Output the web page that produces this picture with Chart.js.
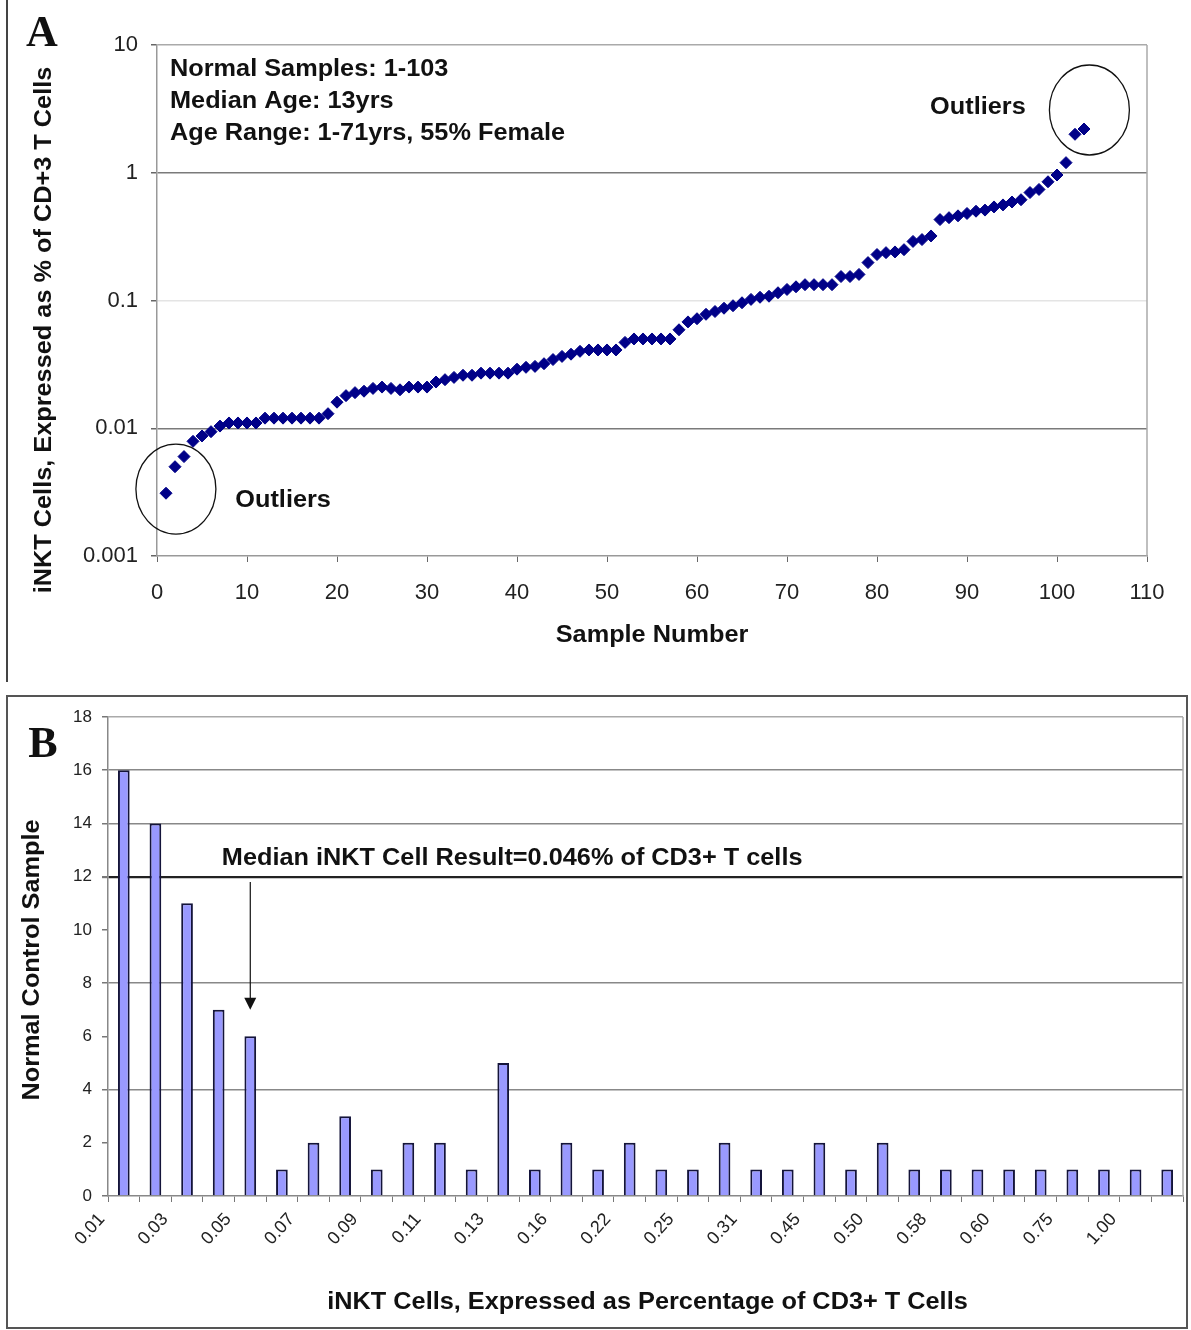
<!DOCTYPE html>
<html>
<head>
<meta charset="utf-8">
<script src="https://cdn.jsdelivr.net/npm/chart.js@4.4.1/dist/chart.umd.min.js"></script>
<style>
  body { margin: 0; background: #fff; width: 1191px; height: 1330px; position: relative; overflow: hidden; }
  canvas { position: absolute; left: 0; }
  #chartA { top: 0; }
  #chartB { top: 682px; }
  .frameA { position: absolute; left: 6px; top: 0; width: 2px; height: 682px; background: #444; }
  .frameB { position: absolute; left: 6px; top: 695px; width: 1182px; height: 634px; border: 2px solid #555; box-sizing: border-box; }
</style>
</head>
<body>
<div class="frameA"></div>
<div class="frameB"></div>
<canvas id="chartA" width="1191" height="682"></canvas>
<canvas id="chartB" width="1191" height="648"></canvas>
<script>
// ---- Panel A: iNKT % of CD3+ T cells per sample (log scale) ----
const inktPercent = [
  0.0031, 0.0050, 0.0060, 0.0079, 0.0087, 0.0094, 0.0104, 0.011, 0.011, 0.011,
  0.011, 0.012, 0.012, 0.012, 0.012, 0.012, 0.012, 0.012, 0.013, 0.016,
  0.018, 0.019, 0.0195, 0.0205, 0.021, 0.0205, 0.020, 0.021, 0.021, 0.021,
  0.023, 0.024, 0.025, 0.026, 0.026, 0.027, 0.027, 0.027, 0.027, 0.029,
  0.030, 0.0305, 0.032, 0.0345, 0.0365, 0.038, 0.040, 0.041, 0.041, 0.041,
  0.041, 0.047, 0.050, 0.050, 0.050, 0.050, 0.050, 0.059, 0.068, 0.072,
  0.078, 0.082, 0.087, 0.091, 0.096, 0.102, 0.106, 0.108, 0.115, 0.122,
  0.128, 0.133, 0.133, 0.133, 0.133, 0.154, 0.154, 0.160, 0.198, 0.229,
  0.237, 0.240, 0.250, 0.290, 0.300, 0.320, 0.430, 0.445, 0.460, 0.480,
  0.500, 0.510, 0.540, 0.560, 0.590, 0.615, 0.700, 0.740, 0.850, 0.960,
  1.2, 2.0, 2.2
];
const sampleNumbers = inktPercent.map((_, i) => i + 1);
const yTicksA      = [0.001, 0.01, 0.1, 1, 10];
const yTickLabelsA = ['0.001', '0.01', '0.1', '1', '10'];
const infoLines = ['Normal Samples: 1-103', 'Median Age: 13yrs', 'Age Range: 1-71yrs, 55% Female'];
// outlier circles: centre in data units, label anchor in data units
const outlierNotes = [
  { cx: 103.6, cy: 3.1,     lx: 85.9, ly: 3.22 },
  { cx: 2.1,   cy: 0.00334, lx: 8.7,  ly: 0.00272 },
];

// ---- Panel B: histogram of iNKT results ----
const binTickLabels = ['0.01','0.03','0.05','0.07','0.09','0.11','0.13','0.16','0.22',
                       '0.25','0.31','0.45','0.50','0.58','0.60','0.75','1.00'];
const binCounts = [16, 14, 11, 7, 6, 1, 2, 3, 1, 2, 2, 1, 5, 1, 2, 1, 2,
                   1, 1, 2, 1, 1, 2, 1, 2, 1, 1, 1, 1, 1, 1, 1, 1, 1];
const medianBin = 4;
const medianText = 'Median iNKT Cell Result=0.046% of CD3+ T cells';

const SANS  = '"Liberation Sans", Arial, sans-serif';
const SERIF = '"Liberation Serif", "Times New Roman", serif';

// the scanned figure uses a wide bold face, so stretch the text a bit
function label(ctx, text, x, y, o) {
    ctx.save();
    ctx.translate(x, y);
    if (o.rotate) ctx.rotate(o.rotate);
    ctx.scale(o.sx || 1.1, 1);
    ctx.font = o.font || ('bold 23px ' + SANS);
    ctx.textAlign = o.align || 'left';
    ctx.textBaseline = 'middle';
    ctx.fillStyle = '#111';
    ctx.fillText(text, 0, 0);
    ctx.restore();
}

function rightBorder(ctx, a) {
    ctx.save();
    ctx.strokeStyle = '#aaa';
    ctx.lineWidth = 1.5;
    ctx.beginPath();
    ctx.moveTo(a.right, a.top);
    ctx.lineTo(a.right, a.bottom);
    ctx.stroke();
    ctx.restore();
}

const annotateA = {
    id: 'annotateA',
    afterDraw(chart) {
        const { ctx, chartArea: a, scales: { x, y } } = chart;
        rightBorder(ctx, a);

        infoLines.forEach((t, i) => label(ctx, t, a.left + 13, a.top + 25 + i * 32, {}));

        ctx.save();
        ctx.strokeStyle = '#111';
        ctx.lineWidth = 1.3;
        outlierNotes.forEach(o => {
            ctx.beginPath();
            ctx.ellipse(x.getPixelForValue(o.cx), y.getPixelForValue(o.cy), 40, 45, 0, 0, Math.PI * 2);
            ctx.stroke();
            label(ctx, 'Outliers', x.getPixelForValue(o.lx), y.getPixelForValue(o.ly), {});
        });
        ctx.restore();

        label(ctx, 'Sample Number', (a.left + a.right) / 2, 636, { align: 'center' });
        label(ctx, 'iNKT Cells, Expressed as % of CD+3 T Cells', 45, 330,
              { align: 'center', rotate: -Math.PI / 2, font: 'bold 23px ' + SANS });
        label(ctx, 'A', 42, 35, { align: 'center', sx: 1, font: 'bold 44px ' + SERIF });
    }
};

const annotateB = {
    id: 'annotateB',
    afterDraw(chart) {
        const { ctx, chartArea: a, scales: { x, y } } = chart;
        rightBorder(ctx, a);

        label(ctx, medianText, x.getPixelForValue(3.1), y.getPixelForValue(12.67), {});

        // arrow down to the median bin
        const ax = x.getPixelForValue(medianBin);
        const top = y.getPixelForValue(11.8), tip = y.getPixelForValue(7.0);
        ctx.save();
        ctx.strokeStyle = '#111';
        ctx.fillStyle = '#111';
        ctx.lineWidth = 1.2;
        ctx.beginPath();
        ctx.moveTo(ax, top);
        ctx.lineTo(ax, tip - 10);
        ctx.stroke();
        ctx.beginPath();
        ctx.moveTo(ax - 6, tip - 12);
        ctx.lineTo(ax + 6, tip - 12);
        ctx.lineTo(ax, tip);
        ctx.closePath();
        ctx.fill();
        ctx.restore();

        label(ctx, 'iNKT Cells, Expressed as Percentage of CD3+ T Cells', (a.left + a.right) / 2 + 2, 621,
              { align: 'center' });
        label(ctx, 'Normal Control Sample', 33, 278,
              { align: 'center', rotate: -Math.PI / 2, font: 'bold 23px ' + SANS });
        label(ctx, 'B', 43, 64, { align: 'center', sx: 1, font: 'bold 44px ' + SERIF });
    }
};

new Chart(document.getElementById('chartA'), {
    type: 'scatter',
    data: {
        datasets: [{
            data: sampleNumbers.map((n, i) => ({ x: n, y: inktPercent[i] })),
            pointStyle: 'rectRot',
            pointRadius: 6,
            backgroundColor: '#000088',
            borderColor: '#000088',
            borderWidth: 1,
        }],
    },
    options: {
        responsive: false,
        animation: false,
        events: [],
        layout: { padding: { top: 45, right: 44, left: 0, bottom: 0 } },
        plugins: { legend: { display: false }, tooltip: { enabled: false } },
        scales: {
            x: {
                type: 'linear',
                min: 0, max: 110,
                afterFit: s => { s.height = 126; },
                ticks: { stepSize: 10, padding: 18, color: '#222', font: { family: SANS, size: 22 } },
                grid: { drawOnChartArea: false, tickLength: 6, tickColor: '#666' },
                border: { color: '#999', width: 1.5 },
            },
            y: {
                type: 'logarithmic',
                min: 0.001, max: 10,
                afterFit: s => { s.width = 157; },
                afterBuildTicks: s => { s.ticks = yTicksA.map(v => ({ value: v })); },
                ticks: {
                    padding: 13, color: '#222', font: { family: SANS, size: 22 },
                    callback: (v, i) => yTickLabelsA[i],
                },
                grid: {
                    tickLength: 6, tickColor: '#666', lineWidth: 1.5,
                    color: c => {
                        const v = c.tick && c.tick.value;
                        if (v === 1 || v === 0.01) return '#7a7a7a';
                        if (v === 0.1) return '#e4e4e4';
                        if (v === 10) return '#aaa';
                        return 'rgba(0,0,0,0)';
                    },
                },
                border: { color: '#999', width: 1.5 },
            },
        },
    },
    plugins: [annotateA],
});

new Chart(document.getElementById('chartB'), {
    type: 'bar',
    data: {
        labels: binCounts.map((_, i) => (i % 2 === 0 ? binTickLabels[i / 2] || '' : '')),
        datasets: [{
            data: binCounts,
            backgroundColor: '#9999ff',
            borderColor: '#14143a',
            borderWidth: 2,
            borderSkipped: 'bottom',
            categoryPercentage: 1,
            barPercentage: 0.37,
        }],
    },
    options: {
        responsive: false,
        animation: false,
        events: [],
        layout: { padding: { top: 35, right: 8, left: 0, bottom: 0 } },
        plugins: { legend: { display: false }, tooltip: { enabled: false } },
        scales: {
            x: {
                afterFit: s => { s.height = 134; },
                ticks: {
                    autoSkip: false, minRotation: 48, maxRotation: 48,
                    labelOffset: -22, padding: 7,
                    color: '#222', font: { family: SANS, size: 18 },
                },
                grid: { drawOnChartArea: false, tickLength: 6, tickColor: '#777' },
                border: { color: '#888', width: 1.5 },
            },
            y: {
                min: 0, max: 18,
                afterFit: s => { s.width = 108; },
                ticks: { stepSize: 2, padding: 10, color: '#222', font: { family: SANS, size: 17 } },
                grid: {
                    tickLength: 6, tickColor: '#777',
                    lineWidth: c => (c.tick && c.tick.value === 12 ? 2.2 : 1.5),
                    color: c => {
                        const v = c.tick && c.tick.value;
                        if (v === 12) return '#222';
                        if (v === 18) return '#aaa';
                        if ([4, 8, 14, 16].includes(v)) return '#888';
                        return 'rgba(0,0,0,0)';
                    },
                },
                border: { color: '#888', width: 1.5 },
            },
        },
    },
    plugins: [annotateB],
});
</script>
</body>
</html>
